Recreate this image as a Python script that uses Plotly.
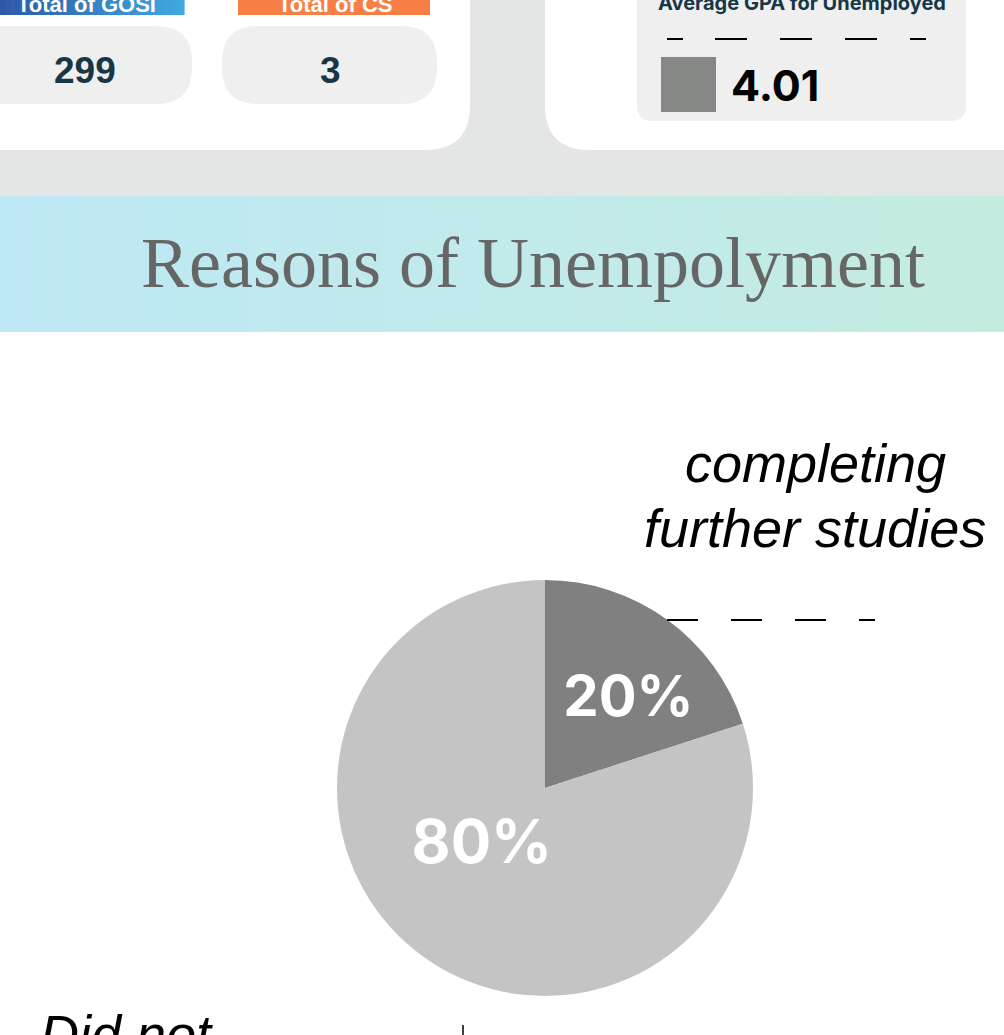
import plotly.graph_objects as go

# KPI cards
kpi_labels = ["Total of GOSI", "Total of CS"]
kpi_values = [299, 3]
gpa_label = "Average GPA for Unemployed"
gpa_value = 4.01

# pie: reasons of unemployment
section_title = "Reasons of Unempolyment"
reason_labels = ["completing further studies", "Did not"]
reason_values = [20, 80]
reason_colors = ["#808080", "#C4C4C4"]

W, H = 1004, 1035
BG = "#E4E6E5"
TEAL = "#163746"

shapes = []
annotations = []


def rect(x0, y0, x1, y1, color):
    shapes.append(dict(type="rect", x0=x0, y0=y0, x1=x1, y1=y1,
                       fillcolor=color, line=dict(width=0), layer="below"))


def rounded(x0, y0, x1, y1, r, color, corners="tl tr br bl"):
    c = corners.split()
    rr = {k: (r if k in c else 0) for k in ["tl", "tr", "br", "bl"]}
    p = f"M {x0 + rr['tl']},{y0} L {x1 - rr['tr']},{y0} "
    p += f"Q {x1},{y0} {x1},{y0 + rr['tr']} L {x1},{y1 - rr['br']} "
    p += f"Q {x1},{y1} {x1 - rr['br']},{y1} L {x0 + rr['bl']},{y1} "
    p += f"Q {x0},{y1} {x0},{y1 - rr['bl']} L {x0},{y0 + rr['tl']} "
    p += f"Q {x0},{y0} {x0 + rr['tl']},{y0} Z"
    shapes.append(dict(type="path", path=p, fillcolor=color,
                       line=dict(width=0), layer="below"))


def gradient(x0, y0, x1, y1, c0, c1, steps=60):
    w = (x1 - x0) / steps
    for i in range(steps):
        t = i / (steps - 1)
        col = tuple(round(a + (b - a) * t) for a, b in zip(c0, c1))
        rect(x0 + i * w, y0, x0 + (i + 1) * w + 0.6, y1, "rgb(%d,%d,%d)" % col)


def text(x, y, s, size, color, family="Roboto", xa="center", ya="middle", **kw):
    annotations.append(dict(x=x, y=y, xref="x", yref="y", text=s, showarrow=False,
                            xanchor=xa, yanchor=ya,
                            font=dict(size=size, color=color, family=family, **kw)))


# background
rect(0, 0, W, 196, BG)
rounded(-60, -60, 470, 150, 45, "white", "br")
rounded(545, -60, W + 60, 150, 45, "white", "bl")

# left card: GOSI / CS
gradient(0, -10, 184, 15, (46, 88, 168), (63, 168, 224), steps=30)
rect(238, -10, 430, 15, "#F77F45")
rounded(-40, 26, 192, 104, 36, "#EFEFEF")
rounded(222, 26, 437, 104, 36, "#EFEFEF")
text(86, 4, "<b>" + kpi_labels[0] + "</b>", 22, "white", "Liberation Sans")
text(335, 4, "<b>" + kpi_labels[1] + "</b>", 22, "white", "Liberation Sans")
text(85, 70, "<b>%d</b>" % kpi_values[0], 37, TEAL, "Liberation Sans")
text(330, 70, "<b>%d</b>" % kpi_values[1], 37, TEAL, "Liberation Sans")

# right card: GPA
rounded(637, -40, 966, 121, 16, "#EFEFEF")
text(802, 3, "<b>" + gpa_label + "</b>", 20, TEAL, "Inter")
shapes.append(dict(type="line", x0=667, x1=683, y0=39, y1=39,
                   line=dict(color="black", width=2)))
shapes.append(dict(type="line", x0=715, x1=926, y0=39, y1=39,
                   line=dict(color="black", width=2, dash="32px,33px")))
rect(661, 57, 716, 112, "#858885")
text(729, 85, "<b>%.2f</b>" % gpa_value, 43, "black", "Inter", xa="left")

# section banner
gradient(0, 196, W, 332, (190, 232, 245), (196, 236, 225), steps=100)
text(533, 263, section_title, 72, "#666666", "Liberation Serif")

# pie callouts
text(815, 463, "<i>completing</i>", 54, "black", "Liberation Sans")
text(815, 528, "<i>further studies</i>", 54, "black", "Liberation Sans")
shapes.append(dict(type="line", x0=667, x1=875, y0=620, y1=620,
                   line=dict(color="black", width=2, dash="31px,33px")))
text(38, 1002, "<i>" + reason_labels[1] + "</i>", 54, "black",
     "Liberation Sans", xa="left", ya="top")
shapes.append(dict(type="line", x0=463, x1=463, y0=1025, y1=1040,
                   line=dict(color="black", width=1.5)))

cx, cy, R = 545, 788, 208


def dom(r):
    return dict(x=[(cx - r) / W, (cx + r) / W], y=[1 - (cy + r) / H, 1 - (cy - r) / H])


pie = go.Pie(
    labels=reason_labels,
    values=reason_values,
    marker=dict(colors=reason_colors, line=dict(width=0)),
    sort=False,
    direction="clockwise",
    rotation=0,
    textinfo="none",
    hoverinfo="label+percent",
    showlegend=False,
    domain=dom(R),
)
traces = [pie]

# transparent copies of the pie that only carry the percent labels,
# one per slice so each label can sit a bit closer to the centre
label_radius = [198, 165]
label_turn = [6, 14]
for i in range(len(reason_values)):
    tmpl = ["" for _ in reason_values]
    tmpl[i] = "%{percent:.0%}"
    traces.append(go.Pie(
        labels=reason_labels,
        values=reason_values,
        marker=dict(colors=["rgba(0,0,0,0)"] * len(reason_values), line=dict(width=0)),
        sort=False,
        direction="clockwise",
        rotation=label_turn[i],
        texttemplate=tmpl,
        textposition="inside",
        insidetextorientation="horizontal",
        textfont=dict(size=60, color="white", family="Inter", weight="bold"),
        hoverinfo="skip",
        showlegend=False,
        domain=dom(label_radius[i]),
    ))

fig = go.Figure(data=traces)
fig.update_layout(
    width=W, height=H,
    margin=dict(l=0, r=0, t=0, b=0),
    paper_bgcolor="white",
    plot_bgcolor="white",
    xaxis=dict(range=[0, W], visible=False, fixedrange=True),
    yaxis=dict(range=[H, 0], visible=False, fixedrange=True),
    shapes=shapes,
    annotations=annotations,
    showlegend=False,
)
fig.write_html("out.html", config={"displayModeBar": False},
               post_script="document.body.style.margin='0';")
